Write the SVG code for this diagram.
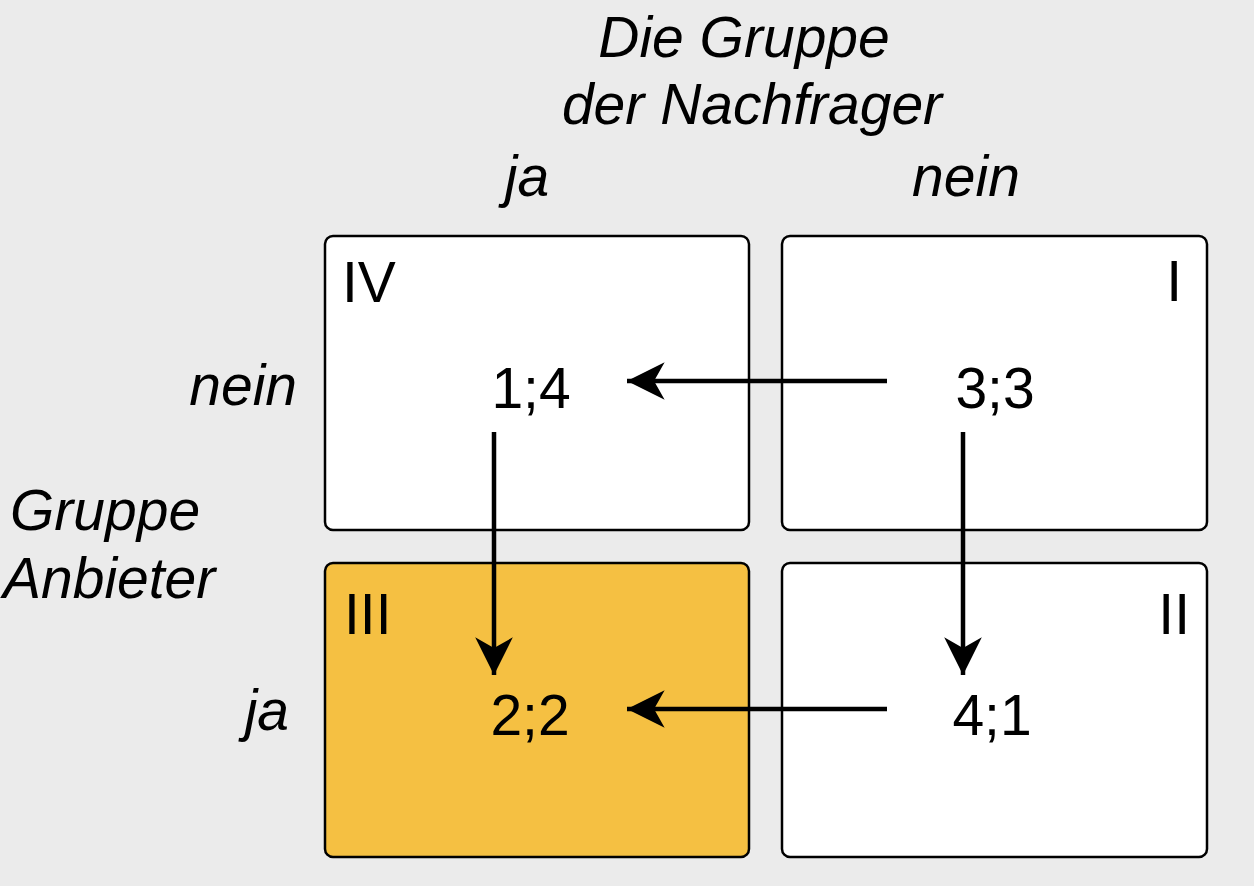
<svg xmlns="http://www.w3.org/2000/svg" width="1254" height="886" viewBox="0 0 1254 886">
<style>
.box{fill:#ffffff;stroke:#000000;stroke-width:2.5}
.hl{fill:#f5c042}
.t{font-family:"Liberation Sans",Arial,sans-serif;font-size:57px;fill:#000}
.i{font-style:italic}
.c{stroke:#000;stroke-width:4.5;fill:none}
</style>
<defs>
<marker id="ah" markerUnits="userSpaceOnUse" markerWidth="40" markerHeight="40" viewBox="0 0 34 34" refX="32" refY="17" orient="auto">
<path d="M32 17 L0 1 L9 17 L0 33 Z" fill="#000"/>
</marker>
</defs>
<rect width="1254" height="886" fill="#ebebeb"/>
<g id="header">
<text class="t i" x="744" y="57" text-anchor="middle">Die Gruppe</text>
<text class="t i" x="752" y="124" text-anchor="middle">der Nachfrager</text>
<text class="t i" x="527" y="196" text-anchor="middle">ja</text>
<text class="t i" x="966" y="196" text-anchor="middle">nein</text>
</g>
<g id="rowlabels">
<text class="t i" x="297" y="405" text-anchor="end">nein</text>
<text class="t i" x="10" y="530">Gruppe</text>
<text class="t i" x="3" y="598">Anbieter</text>
<text class="t i" x="289" y="730" text-anchor="end">ja</text>
</g>
<g id="node-IV">
<rect class="box" x="325" y="236" width="424" height="294" rx="8"/>
<text class="t" x="342" y="302">IV</text>
<text class="t" x="531" y="408" text-anchor="middle">1;4</text>
</g>
<g id="node-I">
<rect class="box" x="782" y="236" width="425" height="294" rx="8"/>
<text class="t" x="1182" y="301" text-anchor="end">I</text>
<text class="t" x="995" y="408" text-anchor="middle">3;3</text>
</g>
<g id="node-III">
<rect class="box hl" x="325" y="563" width="424" height="294" rx="8"/>
<text class="t" x="344" y="634">III</text>
<text class="t" x="530" y="735" text-anchor="middle">2;2</text>
</g>
<g id="node-II">
<rect class="box" x="782" y="563" width="425" height="294" rx="8"/>
<text class="t" x="1190" y="634" text-anchor="end">II</text>
<text class="t" x="992" y="735" text-anchor="middle">4;1</text>
</g>
<g id="connectors">
<line class="c" x1="887" y1="381" x2="627" y2="381" marker-end="url(#ah)"/>
<line class="c" x1="887" y1="709" x2="627" y2="709" marker-end="url(#ah)"/>
<line class="c" x1="494" y1="432" x2="494" y2="675" marker-end="url(#ah)"/>
<line class="c" x1="963" y1="432" x2="963" y2="675" marker-end="url(#ah)"/>
</g>
</svg>
